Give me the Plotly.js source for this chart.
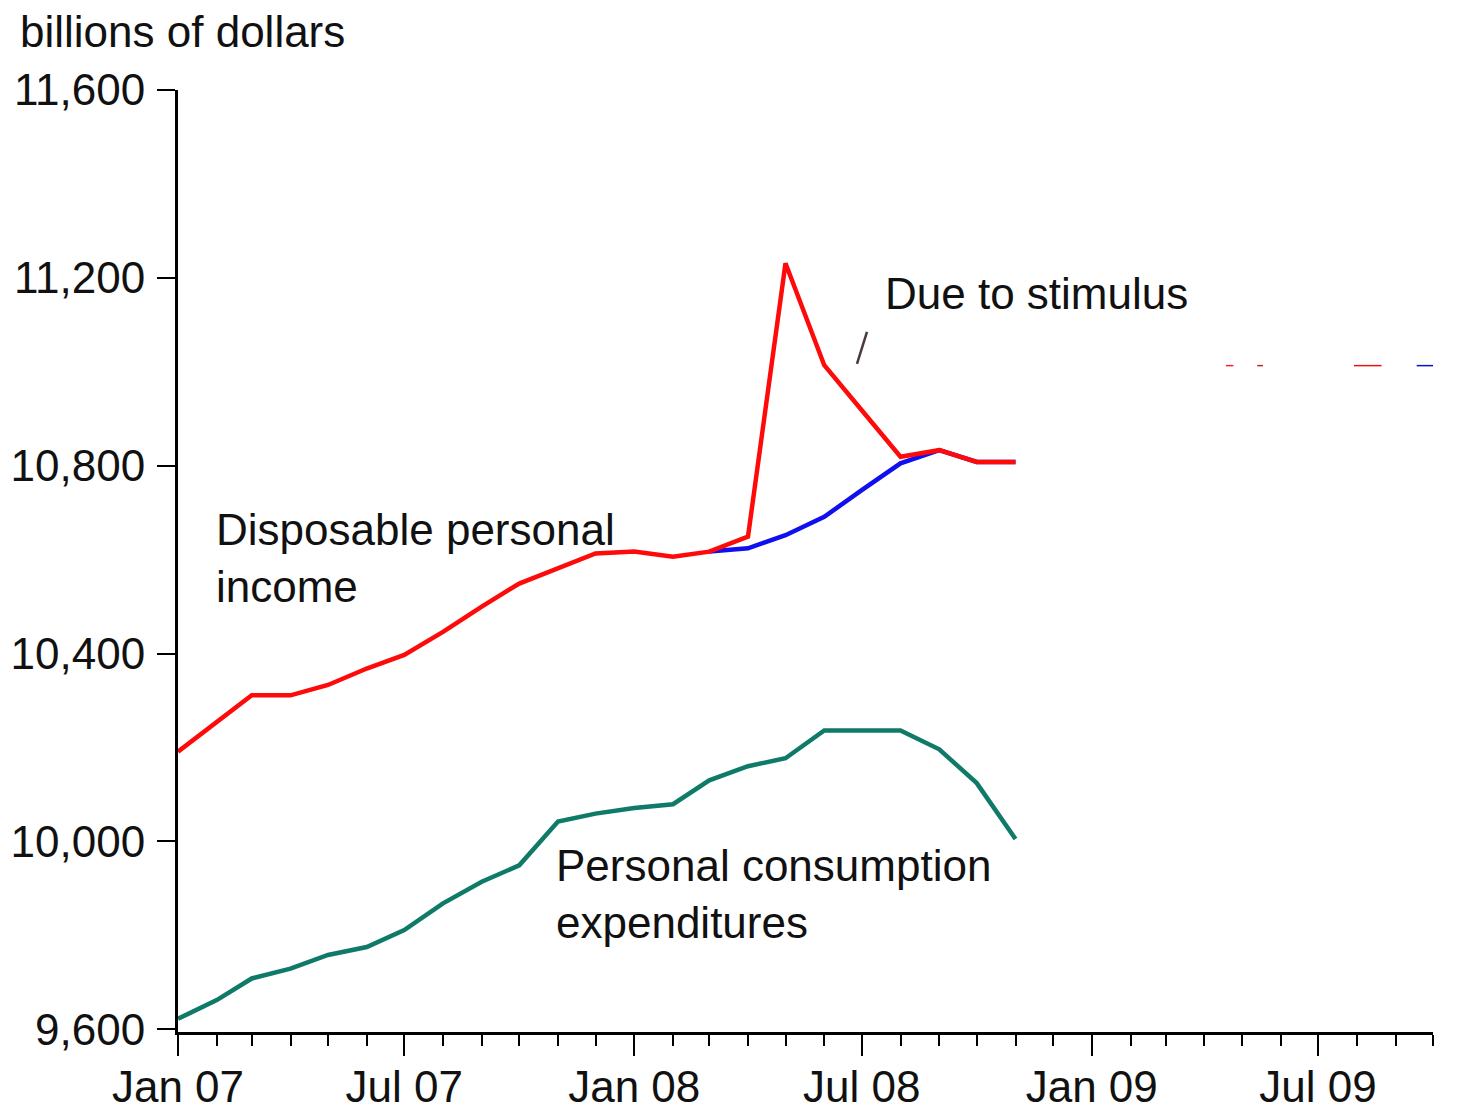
<!DOCTYPE html>
<html>
<head>
<meta charset="utf-8">
<script src="https://cdn.plot.ly/plotly-3.0.1.min.js"></script>
<style>html,body{margin:0;padding:0;background:#fff;}#chart{width:1471px;height:1110px;}</style>
</head>
<body>
<div id="chart"></div>
<script>
// Months (monthly observations)
const months = ['2007-01-01','2007-02-01','2007-03-01','2007-04-01','2007-05-01','2007-06-01',
  '2007-07-01','2007-08-01','2007-09-01','2007-10-01','2007-11-01','2007-12-01',
  '2008-01-01','2008-02-01','2008-03-01','2008-04-01','2008-05-01','2008-06-01',
  '2008-07-01','2008-08-01','2008-09-01','2008-10-01','2008-11-01'];

// Disposable personal income, including stimulus (red)
const dpiWithStimulus = [10191, 10255, 10311, 10311, 10333, 10368, 10397, 10446, 10500, 10549, 10581, 10613,
  10617, 10606, 10617, 10649, 11231, 11014, 10918, 10819, 10833, 10808, 10808];

// Disposable personal income, excluding stimulus (blue), Mar 08 - Nov 08
const noStimMonths = ['2008-03-01','2008-04-01','2008-05-01','2008-06-01','2008-07-01',
  '2008-08-01','2008-09-01','2008-10-01','2008-11-01'];
const dpiWithoutStimulus = [10617, 10624, 10652, 10691, 10748, 10805, 10833, 10808, 10808];

// Personal consumption expenditures (teal)
const pce = [9622, 9662, 9708, 9729, 9758, 9775, 9811, 9868, 9914, 9949, 10042, 10059,
  10071, 10079, 10130, 10160, 10177, 10236, 10236, 10236, 10196, 10124, 10005];

// Axis ticks
const yTicks = [9600, 10000, 10400, 10800, 11200, 11600];

const FONT = '"Liberation Sans", Arial, sans-serif';

const traces = [
  {x: months, y: pce, type: 'scatter', mode: 'lines',
   line: {color: '#107a68', width: 4.5}, hoverinfo: 'skip'},
  {x: noStimMonths, y: dpiWithoutStimulus, type: 'scatter', mode: 'lines',
   line: {color: '#1010ee', width: 4.5}, hoverinfo: 'skip'},
  {x: months, y: dpiWithStimulus, type: 'scatter', mode: 'lines',
   line: {color: '#ff0a0a', width: 4.5}, hoverinfo: 'skip'}
];

const layout = {
  width: 1471, height: 1110,
  margin: {l: 178, r: 38, t: 90, b: 78},
  paper_bgcolor: '#fff', plot_bgcolor: '#fff',
  showlegend: false,
  font: {family: FONT, size: 44, color: '#111'},
  xaxis: {
    type: 'date',
    range: ['2007-01-01', '2009-10-01'],
    tickmode: 'linear', tick0: '2007-01-01', dtick: 'M6',
    tickformat: '%b %y',
    ticks: 'outside', ticklen: 21, tickwidth: 2, tickcolor: '#000',
    ticklabelstandoff: -7,
    minor: {dtick: 'M1', tick0: '2007-01-01', ticks: 'outside', ticklen: 11, tickwidth: 2, tickcolor: '#000', showgrid: false},
    showline: true, linecolor: '#000', linewidth: 3,
    showgrid: false, zeroline: false,
    tickfont: {family: FONT, size: 44, color: '#111'}
  },
  yaxis: {
    range: [9594, 11600],
    tickmode: 'array', tickvals: yTicks,
    tickformat: ',d',
    ticks: 'outside', ticklen: 18, tickwidth: 2, tickcolor: '#000',
    ticklabelstandoff: 3,
    showline: true, linecolor: '#000', linewidth: 3,
    showgrid: false, zeroline: false,
    tickfont: {family: FONT, size: 44, color: '#111'}
  },
  annotations: [
    {text: 'billions of dollars', xref: 'paper', yref: 'paper', x: -0.1275, y: 1.0618,
     xanchor: 'left', yanchor: 'middle', showarrow: false, font: {family: FONT, size: 44, color: '#111'}},
    {text: 'Disposable personal<br>income', xref: 'paper', yref: 'paper', x: 0.0285, y: 0.503,
     xanchor: 'left', yanchor: 'middle', align: 'left', showarrow: false, font: {family: FONT, size: 44, color: '#111'}},
    {text: 'Due to stimulus', xref: 'paper', yref: 'paper', x: 0.562, y: 0.7838,
     xanchor: 'left', yanchor: 'middle', showarrow: false, font: {family: FONT, size: 44, color: '#111'}},
    {text: 'Personal consumption<br>expenditures', xref: 'paper', yref: 'paper', x: 0.2995, y: 0.146,
     xanchor: 'left', yanchor: 'middle', align: 'left', showarrow: false, font: {family: FONT, size: 44, color: '#111'}}
  ],
  shapes: [
    {type: 'line', xref: 'paper', yref: 'paper', x0: 0.541, y0: 0.7093, x1: 0.549, y1: 0.7433,
     line: {color: '#4a3a3a', width: 2.5}},
    {type: 'line', xref: 'paper', yref: 'paper', x0: 0.835, y0: 0.7074, x1: 0.841, y1: 0.7074, line: {color: '#ff2020', width: 1.5}},
    {type: 'line', xref: 'paper', yref: 'paper', x0: 0.860, y0: 0.7074, x1: 0.8645, y1: 0.7074, line: {color: '#c02020', width: 1.5}},
    {type: 'line', xref: 'paper', yref: 'paper', x0: 0.937, y0: 0.7074, x1: 0.959, y1: 0.7074, line: {color: '#ee1010', width: 1.5}},
    {type: 'line', xref: 'paper', yref: 'paper', x0: 0.987, y0: 0.7074, x1: 1.0, y1: 0.7074, line: {color: '#1010c0', width: 1.5}}
  ]
};

Plotly.newPlot('chart', traces, layout, {staticPlot: true, displayModeBar: false});
</script>
</body>
</html>
